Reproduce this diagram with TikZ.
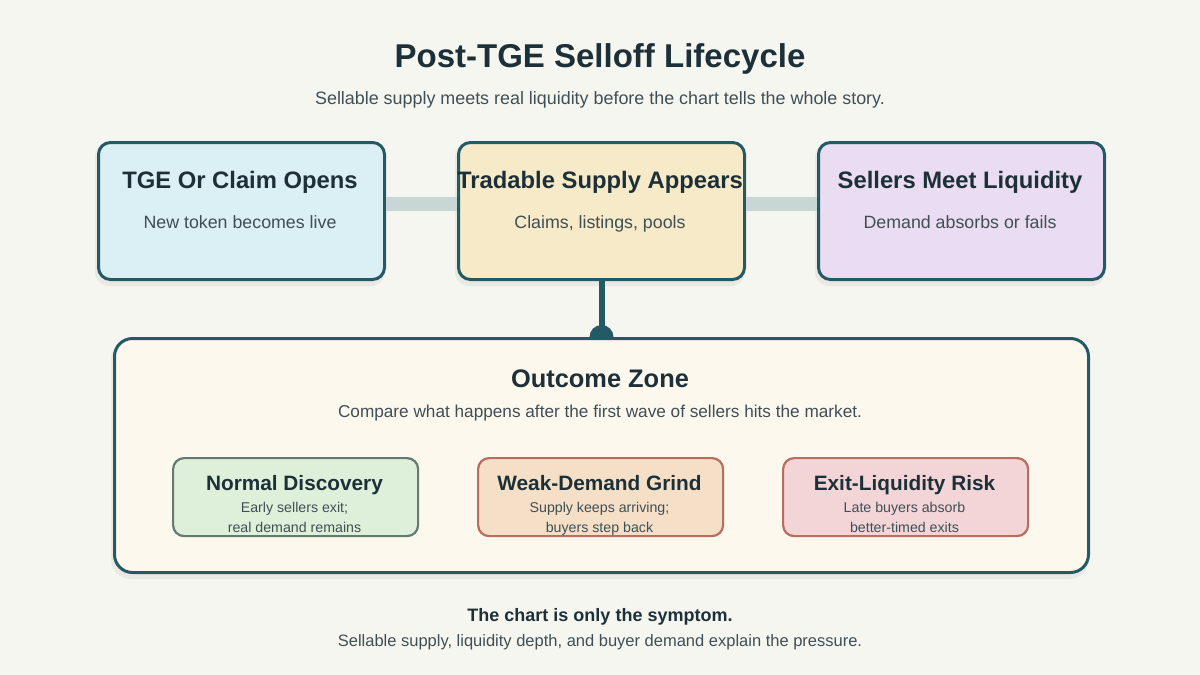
\documentclass[tikz,border=0pt]{standalone}
\usepackage{fontspec}
\setmainfont{Liberation Sans}
\definecolor{bg}{HTML}{F6F6F1}
\definecolor{teal}{HTML}{235A66}
\definecolor{ink}{HTML}{1D3038}
\definecolor{sub}{HTML}{3F4F55}
\definecolor{bar}{HTML}{C8D7D6}
\definecolor{fa}{HTML}{DAF0F4}
\definecolor{fb}{HTML}{F6EAC8}
\definecolor{fc}{HTML}{EADCF2}
\definecolor{zone}{HTML}{FDF8EE}
\definecolor{ga}{HTML}{DFF0DA}
\definecolor{gb}{HTML}{F5DFC6}
\definecolor{gc}{HTML}{F3D5D8}
\definecolor{ba}{HTML}{627A72}
\definecolor{bb}{HTML}{B76E5E}
\tikzset{
  stage/.style={draw=teal, line width=3pt, rounded corners=12pt, minimum width=286pt, minimum height=137pt, anchor=north west},
  outc/.style={line width=2.2pt, rounded corners=11pt, minimum width=245pt, minimum height=78pt, anchor=north west},
  fix/.style={text height=0.72em, text depth=0.22em},
  ttl/.style={fix, font=\bfseries\fontsize{23.8}{28}\selectfont, text=ink},
  stl/.style={fix, font=\fontsize{17.8}{21}\selectfont, text=sub},
  otl/.style={fix, font=\bfseries\fontsize{20.8}{25}\selectfont, text=ink},
  osl/.style={fix, font=\fontsize{14.2}{20}\selectfont, text=sub},
  shade/.style={fill=black, opacity=0.05},
}
\begin{document}
\begin{tikzpicture}[x=1pt,y=-1pt]
\fill[bg] (0,0) rectangle (1200,675);
\useasboundingbox (0,0) rectangle (1200,675);
\node[fix, font=\bfseries\fontsize{33}{40}\selectfont, text=ink] (title) at (600,65) {Post-TGE Selloff Lifecycle};
\node[fix, font=\fontsize{17.9}{21}\selectfont, text=sub] (subtitle) at (600,102) {Sellable supply meets real liquidity before the chart tells the whole story.};
% soft shadows
\foreach \x in {97,457,817}{
  \fill[shade, rounded corners=14pt] (\x-2,141+2) rectangle (\x+288,278+8);
}
\fill[shade, rounded corners=20pt] (111,339) rectangle (1089,579);
% connectors
\coordinate (c1) at (383,204);
\coordinate (c2) at (457,204);
\coordinate (c3) at (743,204);
\coordinate (c4) at (817,204);
\node[stage, fill=fa] (s1) at (97,141) {};
\node[stage, fill=fb] (s2) at (457,141) {};
\node[stage, fill=fc] (s3) at (817,141) {};
\draw[bar, line width=14pt] (s1.east |- c1) -- (s2.west |- c2);
\draw[bar, line width=14pt] (s2.east |- c3) -- (s3.west |- c4);
\node[ttl] (t1) at (240,186) {TGE Or Claim Opens};
\node[stl] (d1) at (240,226) {New token becomes live};
\node[ttl] (t2) at (600,186) {Tradable Supply Appears};
\node[stl] (d2) at (600,226) {Claims, listings, pools};
\node[ttl] (t3) at (960,186) {Sellers Meet Liquidity};
\node[stl] (d3) at (960,226) {Demand absorbs or fails};
% zone
\node[draw=teal, line width=3pt, fill=zone, rounded corners=18pt, minimum width=974pt, minimum height=234pt, anchor=north west] (zone) at (113,337) {};
\draw[teal, line width=6pt] (s2.south) -- (zone.north);
\fill[teal] ([xshift=-12pt]zone.north) arc[start angle=180, end angle=0, radius=12pt] -- cycle;
\node[fix, font=\bfseries\fontsize{25.4}{30}\selectfont, text=ink] (zt) at (600,384.5) {Outcome Zone};
\node[fix, font=\fontsize{17.2}{20}\selectfont, text=sub] (zs) at (600,415) {Compare what happens after the first wave of sellers hits the market.};
% outcomes
\node[outc, draw=ba, fill=ga] (o1) at (172,457) {};
\node[outc, draw=bb, fill=gb] (o2) at (477,457) {};
\node[outc, draw=bb, fill=gc] (o3) at (782,457) {};
\node[otl] (ot1) at (294.5,488) {Normal Discovery};
\node[osl] (od1a) at (294.5,510) {Early sellers exit;};
\node[osl] (od1b) at (294.5,530) {real demand remains};
\node[otl] (ot2) at (599.5,488) {Weak-Demand Grind};
\node[osl] (od2a) at (599.5,510) {Supply keeps arriving;};
\node[osl] (od2b) at (599.5,530) {buyers step back};
\node[otl] (ot3) at (904.5,488) {Exit-Liquidity Risk};
\node[osl] (od3a) at (904.5,510) {Late buyers absorb};
\node[osl] (od3b) at (904.5,530) {better-timed exits};
% footer
\node[fix, font=\bfseries\fontsize{18}{21}\selectfont, text=ink] (f1) at (600,619) {The chart is only the symptom.};
\node[fix, font=\fontsize{16.5}{20}\selectfont, text=sub] (f2) at (600,644) {Sellable supply, liquidity depth, and buyer demand explain the pressure.};
\end{tikzpicture}
\end{document}
